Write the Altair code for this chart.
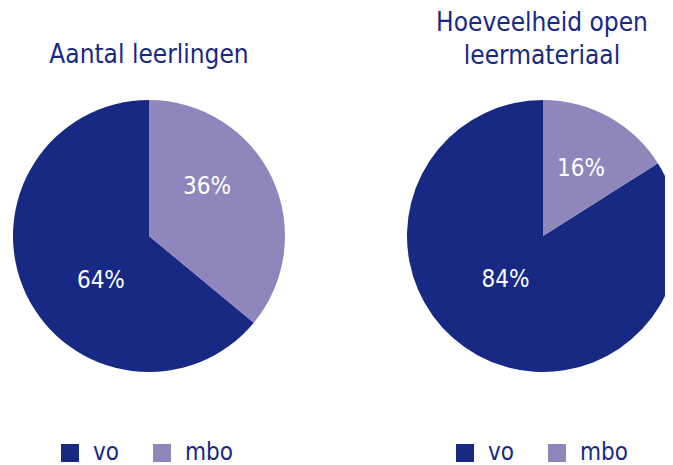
import altair as alt
import pandas as pd

categories = ["vo", "mbo"]
students_pct = [64, 36]
material_pct = [84, 16]
stack_order = [2, 1]
title_left = "Aantal leerlingen"
title_right = ["Hoeveelheid open", "leermateriaal"]
colors = ["#172983", "#8f87bb"]

NAVY = "#172983"
FONT = "DejaVu Sans Condensed"
LABEL_FONT = "DejaVu Sans Condensed"
R = 136


def frame(vals):
    return pd.DataFrame({
        "cat": categories,
        "pct": vals,
        "ord": stack_order,
        "label": [f"{v}%" for v in vals],
    })


def pie(vals, cx, cy, legend_x, label_style):
    df = frame(vals)
    base = alt.Chart(df).encode(
        theta=alt.Theta("pct:Q", stack=True),
        order=alt.Order("ord:Q"),
    )
    arc = base.mark_arc(outerRadius=R, x=cx, y=cy).encode(
        color=alt.Color(
            "cat:N",
            scale=alt.Scale(domain=categories, range=colors),
            legend=alt.Legend(
                title=None,
                orient="none",
                direction="horizontal",
                legendX=legend_x,
                legendY=433,
                symbolType="square",
                symbolSize=324,
                symbolStrokeWidth=0,
                symbolOpacity=1,
                labelFont=FONT,
                labelFontSize=24,
                labelColor=NAVY,
                labelOffset=11,
                columnPadding=31,
                padding=0,
            ),
        )
    )
    layers = [arc]
    for cat, (rad, dx, dy) in label_style.items():
        t = base.mark_text(
            x=cx, y=cy, radius=rad, dx=dx, dy=dy,
            font=LABEL_FONT, fontSize=24, color="white",
            align="center", baseline="middle",
        ).encode(
            text=alt.condition(alt.datum.cat == cat, "label:N", alt.value(""))
        )
        layers.append(t)
    return layers


dummy = pd.DataFrame({"d": [0]})

left = pie(students_pct, 141, 228, 50, {"mbo": (74, -9, -17), "vo": (62, 8, 19)})
right = pie(material_pct, 535, 228, 445, {"mbo": (79, 0, 2), "vo": (55, -11, -4)})

t_left = alt.Chart(dummy).mark_text(
    text=title_left, font=FONT, fontSize=26, color=NAVY,
    align="center", baseline="alphabetic", x=141, y=55,
).encode(opacity=alt.value(1))

t_right = alt.Chart(dummy).mark_text(
    text=title_right, font=FONT, fontSize=26, color=NAVY,
    align="center", baseline="alphabetic", lineHeight=33, x=534, y=23,
).encode(opacity=alt.value(1))

chart = alt.layer(*left, *right, t_left, t_right).resolve_scale(
    color="independent"
).properties(
    width=657, height=457, padding=0, autosize=alt.AutoSizeParams(type="none")
).configure_view(stroke=None)

chart.save("out.html", embed_options={"renderer": "svg", "actions": False})
